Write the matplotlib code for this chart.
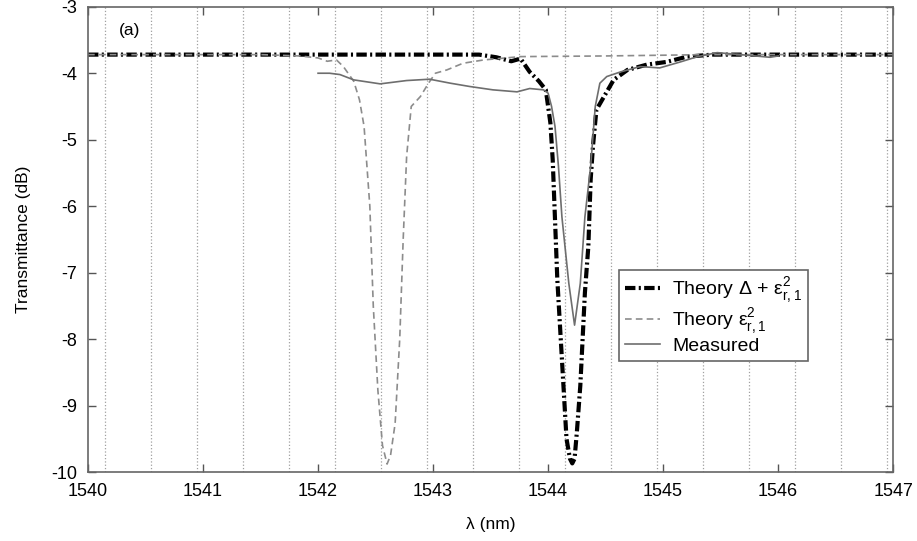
import numpy as np
import matplotlib
matplotlib.use("Agg")
import matplotlib.pyplot as plt

plt.rcParams['font.family'] = ['Liberation Sans', 'DejaVu Sans']
plt.rcParams['mathtext.fontset'] = 'dejavusans'
plt.rcParams['axes.unicode_minus'] = False

# Theory Delta + eps^2 (thick dash-dot)
lam_full = [1540.0, 1541.0, 1542.0, 1543.0, 1543.4, 1543.55, 1543.68, 1543.76, 1543.84,
            1543.92, 1543.98, 1544.02, 1544.04, 1544.08, 1544.12, 1544.16, 1544.19, 1544.21,
            1544.23, 1544.25, 1544.28, 1544.32, 1544.35, 1544.37, 1544.39, 1544.42, 1544.48,
            1544.57, 1544.69, 1544.86, 1545.03, 1545.21, 1545.43, 1546.0, 1547.0]
t_full = [-3.72, -3.72, -3.72, -3.72, -3.72, -3.76, -3.82, -3.78, -3.98,
          -4.12, -4.25, -4.75, -5.3, -7.1, -8.3, -9.5, -9.8, -9.87,
          -9.8, -9.4, -8.7, -7.3, -6.6, -5.6, -5.1, -4.55, -4.37,
          -4.1, -3.95, -3.87, -3.83, -3.75, -3.72, -3.72, -3.72]

# Theory eps^2 only (gray dashed)
lam_eps = [1540.0, 1541.5, 1541.84, 1542.0, 1542.08, 1542.16, 1542.22, 1542.31, 1542.36,
           1542.40, 1542.45, 1542.48, 1542.52, 1542.56, 1542.6, 1542.63, 1542.67, 1542.71,
           1542.74, 1542.77, 1542.81, 1542.89, 1542.96, 1543.02, 1543.12, 1543.26, 1543.44,
           1543.76, 1544.5, 1545.4, 1547.0]
t_eps = [-3.72, -3.72, -3.74, -3.77, -3.82, -3.8, -3.9, -4.12, -4.4,
         -4.8, -6.0, -7.5, -8.77, -9.6, -9.88, -9.75, -9.27, -8.0,
         -6.5, -5.25, -4.5, -4.35, -4.15, -4.0, -3.95, -3.85, -3.8,
         -3.75, -3.74, -3.72, -3.72]

# Measured (solid gray)
lam_meas = [1542.0, 1542.1, 1542.19, 1542.31, 1542.54, 1542.77, 1542.97, 1543.15, 1543.32,
            1543.52, 1543.73, 1543.84, 1543.96, 1544.0, 1544.03, 1544.06, 1544.09, 1544.12,
            1544.18, 1544.23, 1544.28, 1544.32, 1544.37, 1544.41, 1544.45, 1544.51, 1544.63,
            1544.80, 1544.97, 1545.15, 1545.30, 1545.47, 1545.67, 1545.93, 1546.0]
t_meas = [-4.0, -4.0, -4.02, -4.10, -4.16, -4.11, -4.09, -4.15, -4.20,
          -4.25, -4.28, -4.23, -4.25, -4.3, -4.5, -4.8, -5.4, -6.16,
          -7.16, -7.79, -7.16, -6.16, -5.4, -4.5, -4.15, -4.05, -3.98,
          -3.9, -3.92, -3.83, -3.75, -3.69, -3.72, -3.76, -3.74]

grid_lam = np.arange(1540.15, 1547.0, 0.4)

fig = plt.figure(figsize=(9.17, 5.41), dpi=100)
ax = fig.add_axes([0.096, 0.1275, 0.878, 0.86])

ax.plot(lam_full, t_full, color='black', lw=3.0, dashes=(2.5, 0.8, 0.5, 0.8),
        label=r'Theory Δ + ε$_{\mathregular{r,1}}^{\mathregular{2}}$')
ax.plot(lam_eps, t_eps, color='#8c8c8c', lw=1.2, dashes=(4, 2.5),
        label=r'Theory ε$_{\mathregular{r,1}}^{\mathregular{2}}$')
ax.plot(lam_meas, t_meas, color='#6e6e6e', lw=1.2, label='Measured')

ax.set_xlim(1540, 1547)
ax.set_ylim(-10, -3)
ax.set_xticks(np.arange(1540, 1548, 1))
ax.set_yticks(np.arange(-10, -2, 1))
ax.set_xticks(grid_lam, minor=True)
ax.tick_params(which='minor', length=0)
ax.grid(True, which='minor', axis='x', linestyle=':', color='#a0a0a0', lw=0.9)
ax.tick_params(which='major', direction='in', top=True, right=True, length=6,
               labelsize=13, color='#555555', width=1, pad=8)
for s in ax.spines.values():
    s.set_color('#666666')
    s.set_linewidth(1.2)

ax.set_xlabel('λ (nm)', fontsize=12.5, labelpad=12)
ax.set_ylabel('Transmittance (dB)', fontsize=12.5, labelpad=14)
ax.text(1540.27, -3.43, '(a)', fontsize=12.5)

leg = ax.legend(loc='lower left', bbox_to_anchor=(0.648, 0.218), fontsize=14,
                fancybox=False, edgecolor='#666666', framealpha=1, handlelength=1.8,
                borderpad=0.3, labelspacing=0.05, handletextpad=0.6)
leg.get_frame().set_linewidth(1.2)

fig.savefig('out.png', dpi=100)
